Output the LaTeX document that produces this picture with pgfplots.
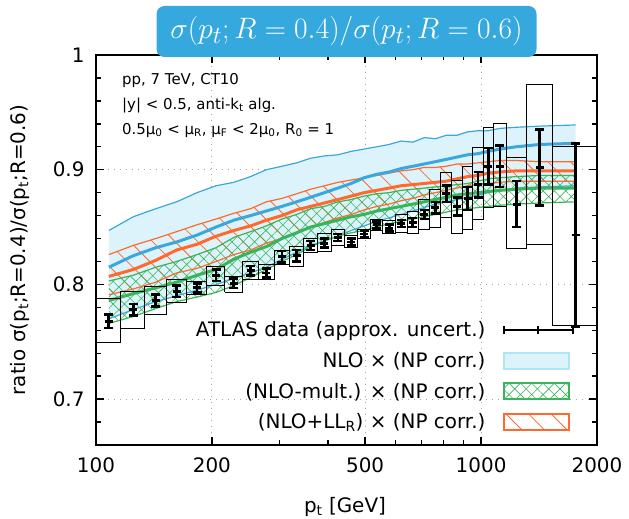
\documentclass[border=0pt]{standalone}
\usepackage{fontspec}
\setmainfont{DejaVu Sans}
\usepackage{pgfplots}
\usepackage{pgfplotstable}
\pgfplotsset{compat=1.18}
\usepgfplotslibrary{fillbetween}
\usetikzlibrary{patterns.meta}

\definecolor{bluefill}{RGB}{221,243,252}
\definecolor{blueedge}{RGB}{176,229,248}
\definecolor{bluel}{RGB}{58,168,221}
\definecolor{orangel}{RGB}{255,106,44}
\definecolor{greenl}{RGB}{56,181,90}
\definecolor{titleblue}{RGB}{53,169,221}

\pgfplotstableread{
pt   val   err
108  0.768 0.006
125  0.778 0.005
143  0.786 0.005
162  0.794 0.005
183  0.797 0.004
205  0.808 0.005
228  0.801 0.004
252  0.812 0.004
277  0.810 0.004
304  0.824 0.005
332  0.825 0.005
361  0.834 0.004
392  0.836 0.004
425  0.841 0.003
460  0.837 0.003
497  0.844 0.003
536  0.852 0.003
577  0.849 0.003
620  0.853 0.003
665  0.854 0.004
712  0.861 0.004
761  0.867 0.005
812  0.879 0.007
866  0.868 0.008
923  0.875 0.010
982  0.887 0.011
1044 0.903 0.016
1119 0.903 0.018
1236 0.870 0.020
1420 0.902 0.033
1761 0.843 0.080
}\atlas

\pgfplotstableread{
pt   bu    bc    bl    ou    oc    ol    gu    gc    gl
108  0.847 0.815 0.770 0.826 0.807 0.791 0.803 0.786 0.766
125  0.859 0.825 0.778 0.834 0.813 0.796 0.808 0.792 0.772
143  0.866 0.832 0.785 0.840 0.821 0.802 0.815 0.797 0.779
162  0.872 0.837 0.790 0.846 0.830 0.810 0.820 0.802 0.785
183  0.880 0.843 0.795 0.852 0.835 0.814 0.826 0.808 0.789
205  0.886 0.850 0.800 0.857 0.842 0.820 0.832 0.813 0.793
228  0.889 0.856 0.805 0.862 0.847 0.826 0.841 0.822 0.799
252  0.894 0.860 0.810 0.866 0.851 0.830 0.846 0.828 0.806
277  0.900 0.864 0.815 0.872 0.856 0.836 0.851 0.833 0.813
304  0.903 0.868 0.822 0.875 0.860 0.840 0.857 0.840 0.820
332  0.906 0.872 0.828 0.879 0.865 0.845 0.861 0.845 0.826
361  0.910 0.876 0.834 0.883 0.868 0.850 0.866 0.850 0.833
392  0.912 0.880 0.838 0.886 0.871 0.854 0.868 0.853 0.838
425  0.913 0.884 0.842 0.889 0.874 0.858 0.872 0.856 0.842
460  0.916 0.888 0.847 0.891 0.877 0.861 0.874 0.859 0.845
497  0.918 0.893 0.851 0.893 0.880 0.865 0.877 0.861 0.847
536  0.920 0.896 0.855 0.895 0.882 0.868 0.879 0.864 0.850
577  0.922 0.898 0.858 0.897 0.884 0.870 0.880 0.866 0.853
620  0.925 0.901 0.861 0.899 0.886 0.873 0.882 0.868 0.855
665  0.924 0.903 0.864 0.900 0.887 0.875 0.883 0.870 0.857
712  0.928 0.905 0.867 0.902 0.888 0.878 0.884 0.872 0.859
761  0.927 0.907 0.870 0.902 0.889 0.880 0.885 0.874 0.861
812  0.930 0.909 0.872 0.903 0.890 0.882 0.886 0.876 0.863
866  0.930 0.911 0.874 0.905 0.892 0.884 0.887 0.878 0.865
923  0.933 0.913 0.876 0.905 0.894 0.886 0.888 0.879 0.866
982  0.934 0.914 0.878 0.906 0.895 0.887 0.890 0.880 0.867
1044 0.934 0.916 0.880 0.907 0.897 0.888 0.892 0.881 0.868
1119 0.936 0.918 0.882 0.908 0.898 0.889 0.893 0.882 0.869
1236 0.937 0.920 0.884 0.908 0.899 0.890 0.894 0.883 0.870
1420 0.938 0.922 0.885 0.907 0.899 0.890 0.895 0.884 0.871
1761 0.939 0.923 0.886 0.907 0.899 0.890 0.895 0.884 0.872
}\theory

\newcommand{\databox}[4]{\addplot[forget plot, black, line width=0.9bp, sharp plot, mark=none] coordinates {(#1,#3) (#2,#3) (#2,#4) (#1,#4) (#1,#3)};}

\begin{document}
\begin{tikzpicture}
\begin{axis}[
  name=ax,
  scale only axis, width=501bp, height=390bp,
  xmode=log, xmin=100, xmax=2000, ymin=0.66, ymax=1,
  xtick={100,200,500,1000,2000}, xticklabels={100,200,500,1000,2000},
  minor xtick={300,400,600,700,800,900},
  ytick={0.7,0.8,0.9,1}, yticklabels={0.7,0.8,0.9,1},
  minor ytick={0.66,0.68,0.72,0.74,0.76,0.78,0.82,0.84,0.86,0.88,0.92,0.94,0.96,0.98},
  tick align=inside, major tick length=8bp, minor tick length=5bp,
  every tick/.style={black, line width=1.4bp},
  axis line style={black, line width=1.8bp},
  grid=major, major grid style={gray!70, line width=0.9bp, dash pattern=on 1bp off 5bp},
  /pgf/number format/assume math mode=true,
  tick label style={font=\fontsize{20}{24}\selectfont},
  xticklabel style={yshift=-9bp},
  yticklabel style={xshift=-8bp},
  xlabel={p\textsubscript{t} [GeV]},
  ylabel={ratio σ(p\textsubscript{t};R=0.4)/σ(p\textsubscript{t};R=0.6)},
  label style={font=\fontsize{20}{24}\selectfont},
  xlabel style={at={(axis description cs:0.497,-0.159)}, anchor=center},
  ylabel style={at={(axis description cs:-0.152,0.5)}, anchor=center},
  legend plot pos=right, legend cell align=right,
  legend style={draw=none, fill=none, at={(axis description cs:0.955,0.032)}, anchor=south east,
    font=\fontsize{20}{24}\selectfont, row sep=10bp, column sep=16bp, inner sep=0pt,
    nodes={inner sep=2bp}},
]
% legend
\addlegendimage{legend image code/.code={\draw[black,line width=1.8bp] (0bp,0bp)--(69bp,0bp); \draw[black,line width=1.8bp] (0bp,-4bp)--(0bp,4bp) (34bp,-4bp)--(34bp,4bp) (69bp,-4bp)--(69bp,4bp);}}
\addlegendentry{ATLAS data (approx. uncert.)}
\addlegendimage{legend image code/.code={\draw[fill=bluefill, draw=blueedge, line width=2bp] (0bp,-8bp) rectangle (65bp,8bp);}}
\addlegendentry{NLO × (NP corr.)}
\addlegendimage{legend image code/.code={\draw[pattern={Hatch[angle=45,distance=8bp,line width=0.6bp]}, pattern color=greenl, draw=greenl, line width=2bp] (0bp,-8bp) rectangle (65bp,8bp);}}
\addlegendentry{(NLO-mult.) × (NP corr.)}
\addlegendimage{legend image code/.code={\draw[pattern={Lines[angle=-45,distance=16bp,line width=0.8bp]}, pattern color=orangel, draw=orangel, line width=2bp] (0bp,-8bp) rectangle (65bp,8bp);}}
\addlegendentry{(NLO+LL\textsubscript{R}) × (NP corr.)}

% bands
\addplot[forget plot, draw=none, name path=bu] table[x=pt,y=bu]{\theory};
\addplot[forget plot, draw=none, name path=bl] table[x=pt,y=bl]{\theory};
\addplot[forget plot, draw=none, name path=ou] table[x=pt,y=ou]{\theory};
\addplot[forget plot, draw=none, name path=ol] table[x=pt,y=ol]{\theory};
\addplot[forget plot, draw=none, name path=gu] table[x=pt,y=gu]{\theory};
\addplot[forget plot, draw=none, name path=gl] table[x=pt,y=gl]{\theory};
\addplot[forget plot, fill=bluefill, draw=none] fill between[of=bu and bl];
\addplot[forget plot, pattern={Lines[angle=-45,distance=16bp,line width=0.8bp]}, pattern color=orangel, draw=none] fill between[of=ou and ol];
\addplot[forget plot, pattern={Hatch[angle=45,distance=8bp,line width=0.6bp]}, pattern color=greenl, draw=none] fill between[of=gu and gl];

% edges and centrals
\addplot[forget plot, bluel, line width=1.2bp, mark=none] table[x=pt,y=bu]{\theory};
\addplot[forget plot, bluel, line width=1.2bp, mark=none] table[x=pt,y=bl]{\theory};
\addplot[forget plot, greenl, line width=1.2bp, mark=none] table[x=pt,y=gu]{\theory};
\addplot[forget plot, greenl, line width=1.2bp, mark=none] table[x=pt,y=gl]{\theory};
\addplot[forget plot, orangel, line width=1.2bp, mark=none] table[x=pt,y=ou]{\theory};
\addplot[forget plot, orangel, line width=1.2bp, mark=none] table[x=pt,y=ol]{\theory};
\addplot[forget plot, greenl, line width=3bp, mark=none] table[x=pt,y=gc]{\theory};
\addplot[forget plot, orangel, line width=3bp, mark=none] table[x=pt,y=oc]{\theory};
\addplot[forget plot, bluel, line width=3bp, mark=none] table[x=pt,y=bc]{\theory};

% data boxes
\databox{100}{116}{0.749}{0.788}
\databox{116}{134}{0.762}{0.794}
\databox{134}{152}{0.774}{0.798}
\databox{152}{172}{0.784}{0.804}
\databox{172}{194}{0.791}{0.803}
\databox{194}{216}{0.799}{0.816}
\databox{216}{240}{0.793}{0.807}
\databox{240}{264}{0.804}{0.820}
\databox{264}{290}{0.804}{0.817}
\databox{290}{318}{0.817}{0.830}
\databox{318}{346}{0.816}{0.833}
\databox{346}{376}{0.828}{0.840}
\databox{376}{408}{0.829}{0.844}
\databox{408}{442}{0.834}{0.848}
\databox{442}{478}{0.832}{0.843}
\databox{478}{516}{0.840}{0.848}
\databox{516}{556}{0.847}{0.857}
\databox{556}{598}{0.844}{0.856}
\databox{598}{642}{0.845}{0.861}
\databox{642}{688}{0.844}{0.864}
\databox{688}{736}{0.848}{0.874}
\databox{736}{786}{0.850}{0.883}
\databox{786}{838}{0.858}{0.898}
\databox{838}{894}{0.844}{0.891}
\databox{894}{952}{0.848}{0.903}
\databox{952}{1012}{0.857}{0.919}
\databox{1012}{1076}{0.867}{0.937}
\databox{1076}{1162}{0.868}{0.940}
\databox{1162}{1310}{0.831}{0.911}
\databox{1310}{1530}{0.835}{0.974}
\databox{1530}{1992}{0.764}{0.920}

% data points with stat errors
\addplot[forget plot, black, line width=2.8bp, only marks, mark=-, mark size=4bp, mark options={line width=2.8bp},
  error bars/.cd, y dir=both, y explicit,
  error bar style={line width=2.8bp, black},
  error mark options={rotate=90, line width=2.6bp, mark size=4.5bp, black}]
  table[x=pt, y=val, y error=err]{\atlas};
\end{axis}
\node[fill=titleblue, text=white, rounded corners=8bp, minimum width=380bp, minimum height=51bp, inner sep=0pt, font=\fontsize{24.88}{30}\selectfont]
  at ([yshift=23.5bp]ax.north) {\scalebox{1.19}{$\sigma(p_t;R=0.4)/\sigma(p_t;R=0.6)$}};
\node[anchor=north west, align=left, inner sep=0pt, font=\fontsize{15}{25}\selectfont]
  at ([xshift=26bp,yshift=-18bp]ax.north west) {pp, 7 TeV, CT10\\|y| < 0.5, anti-k\textsubscript{t} alg.\\0.5μ\textsubscript{0} < μ\textsubscript{R}, μ\textsubscript{F} < 2μ\textsubscript{0}, R\textsubscript{0} = 1};
\pgfresetboundingbox
\path (ax.south west) ++(-96bp,-74bp) rectangle ++(629bp,519bp);
\end{tikzpicture}
\end{document}
